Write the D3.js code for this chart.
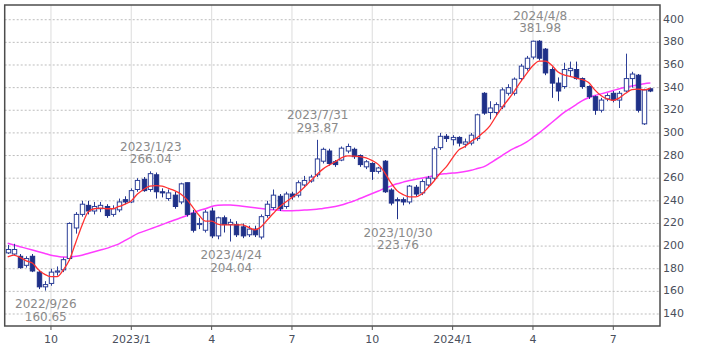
<!DOCTYPE html>
<html>
<head>
<meta charset="utf-8">
<script src="https://cdn.jsdelivr.net/npm/d3@7"></script>
<style>
  body { margin: 0; background: #fff; }
  text { font-family: "DejaVu Sans", Verdana, sans-serif; }
</style>
</head>
<body>
<div id="chart"></div>
<script>
// weekly candles, Monday of each week
const firstWeek = new Date(Date.UTC(2022, 7, 15));
const weeks = d3.utcMonday.range(firstWeek, new Date(Date.UTC(2024, 7, 13)));

const open = [194,193,191,183,191,177,164,167,177,179,189,216,228,236,231,233,235,228,232,241,
  239,250,259,250,263,248,242,245,239,256,229,219,214,231,209,225,219,219,217,210,
  215,208,227,234,244,235,246,245,254,257.5,263,275,284,274.5,276,284,285.5,280,270,273,
  266,275,249.5,241,241,239,252,247,254,260,287,297,294,296,290,291,295,335,318,318,
  323,335,335,348,357,367,381,374,356,344,341,355,356,348,341,332,320,330,335,329,
  337,348,351,308,339];
const high = [201,202,193,191,193,179,169,180,182,190,221,230,240,240,239,239,237,236,242,244,
  251,260,261,266.04,265,251,250,248,256,256,232,225,232,234,226,227,224,222,220,218,
  218,228,240,250,246,248,248,258,262,263,293.87,287,286,276,288,290.5,287,281,276,274,
  270,276,251,243,243,254,254,259,262,288,300,299,298,297,295,300,317,336,328,327,
  340,343,349,361,368,381.5,381.98,375,358,349,362,363,363,349,342,333,331,335,337,337,
  370,354,352,339,340];
const low = [193,192,180,181,177,162,160.65,165,174,177,187,211,226,228,228,230,225,226,230,237,
  238,248,248,248,242,243,240,233,237,226,212,215,212,207,206,212,204.04,208,207,208,
  208,206,225,232,231,233,241,243,252,256,261,273,271,270,275,282,277,270,268,258.5,
  264,247,236,223.76,236,237,244,245,252,258,285,292,289,288,287,289,293,316,312,315,
  321,333,333,346,355,365,364,351,331,328,339,350,347,339,330,316,318,328,327,322,
  336,340,318,307,336];
const close = [197,197,181,189,178,164,166,177,178,188,220,228,237,231,235,236,227,233,239,239,
  249,258,249,264,248,247,247,235,255,228,214,220,230,209,225,219,221,210,209,215,
  210,226,237,245,233,246,243.5,256,258,261,277,285.5,273,272,286.5,288,279,272,274.5,266,
  269,248,238,240,239,253,246,257,260,286,297,295,296,291,292,298,316,317.5,322,325,
  338,340,347.5,359,366,381,366,353,344,337,356,357,348,341,332,320,329,333,329,335,
  348,352,320,338,337];

// 13-week and 26-week moving averages as drawn
const ma13 = [190.5,192,190,187,185,179,175,173,173,179,188,203,218,230,233,233.5,233,233,235,237,
  240,246,250,253,253.5,253,251,249,246,241,234,227,222,222,219.5,218.7,218.7,218.7,218.7,216.5,
  214.3,217,223,229,234.8,239,243,247,252,257.5,263,268,271.5,274.5,278,279.7,279.5,279,278,275.5,
  272,265,256,249,245.5,243.5,243.5,246,251.5,257.5,264.5,270.2,278,285,288,292.5,296,300.5,306,314.5,
  322.5,329.5,337,345,352.5,359.5,363.5,363.5,360,354,351.2,350,348.5,347,344.5,338,333,330,328.8,331,
  335,338.2,338.7,338,339.3];
const ma26 = [202.5,201,199.5,198,196.5,195,193.5,192,191,190.3,190.2,191,192,193.5,195,196.5,198,200,202,205,
  208,211,213,215,217,219,221,223,225,227,229.5,231.5,233,235,236,236.4,236.2,235.8,235.2,234.5,
  233.8,233.2,232.6,232,231.6,231.3,231.3,231.5,231.8,232,232.5,233.3,234,235,236.3,238,239.8,242,244.2,246.5,
  248.7,251,253,255,256.5,258,259,260,261,262.3,263.5,264,264.5,265,265.8,267,268.5,270,273,276.5,
  280,283.5,286.5,289,292,296,300,304.5,309,313.5,318,321.5,325,328.5,331,333,334.5,336,337.5,339,
  340.3,341.5,342.5,343.5,344];

// x axis ticks: first week of each quarter
const tickWeeks = [[2022,9,3],[2023,0,2],[2023,3,3],[2023,6,3],[2023,9,2],[2024,0,1],[2024,3,1],[2024,6,1]]
  .map(d => new Date(Date.UTC(d[0], d[1], d[2])));
const tickLabels = ["10", "2023/1", "4", "7", "10", "2024/1", "4", "7"];
const yTicks = d3.range(140, 401, 20);

// high / low notes
const notes = [
  { date: new Date(Date.UTC(2022, 8, 26)), label: "2022/9/26", value: 160.65, side: "low" },
  { date: new Date(Date.UTC(2023, 0, 23)), label: "2023/1/23", value: 266.04, side: "high" },
  { date: new Date(Date.UTC(2023, 3, 24)), label: "2023/4/24", value: 204.04, side: "low" },
  { date: new Date(Date.UTC(2023, 6, 31)), label: "2023/7/31", value: 293.87, side: "high" },
  { date: new Date(Date.UTC(2023, 9, 30)), label: "2023/10/30", value: 223.76, side: "low" },
  { date: new Date(Date.UTC(2024, 3, 8)), label: "2024/4/8", value: 381.98, side: "high" }
];

const width = 709;
const height = 354;
const plotL = 4.7, plotR = 660, plotT = 5, plotB = 326;
const day = 864e5;

const candles = weeks.map((d, i) => ({ date: d, o: open[i], h: high[i], l: low[i], c: close[i] }));

const x = d3.scaleUtc()
  .domain([new Date(+weeks[0] - 3.4 * day), new Date(+weeks[0] + 738.9 * day)])
  .range([plotL, plotR]);

const y = d3.scaleLinear()
  .domain([129.4, 413])
  .range([plotB, plotT]);

const svg = d3.select('#chart')
  .append('svg')
  .attr('width', width)
  .attr('height', height);

// vertical grid
svg.append('g')
  .selectAll('line')
  .data(tickWeeks)
  .enter().append('line')
  .attr('x1', d => x(d)).attr('x2', d => x(d))
  .attr('y1', plotT).attr('y2', plotB)
  .attr('stroke', '#e2e2e2')
  .attr('stroke-width', 1.2);

// horizontal grid
svg.append('g')
  .selectAll('line')
  .data(yTicks)
  .enter().append('line')
  .attr('x1', plotL).attr('x2', plotR)
  .attr('y1', d => y(d)).attr('y2', d => y(d))
  .attr('stroke', '#bdbdbd')
  .attr('stroke-dasharray', '2,2');

// moving averages
const line = d3.line()
  .x((d, i) => x(weeks[i]))
  .y(d => y(d))
  .curve(d3.curveMonotoneX);

svg.append('path')
  .attr('d', line(ma26))
  .attr('fill', 'none')
  .attr('stroke', '#ff3cff')
  .attr('stroke-width', 1.5);

// candles
const upColor = '#2c3f98';
const downColor = '#1f3088';
const bw = 4.4;

const cg = svg.append('g')
  .selectAll('g')
  .data(candles)
  .enter().append('g');

cg.append('line')
  .attr('x1', d => Math.round(x(d.date)) + 0.5)
  .attr('x2', d => Math.round(x(d.date)) + 0.5)
  .attr('y1', d => y(d.h))
  .attr('y2', d => y(d.l))
  .attr('stroke', d => d.c >= d.o ? upColor : downColor)
  .attr('stroke-width', 1);

cg.append('rect')
  .attr('x', d => Math.round(x(d.date)) + 0.5 - bw / 2)
  .attr('y', d => y(Math.max(d.o, d.c)))
  .attr('width', bw)
  .attr('height', d => Math.max(1, y(Math.min(d.o, d.c)) - y(Math.max(d.o, d.c))))
  .attr('fill', d => d.c >= d.o ? '#fff' : downColor)
  .attr('stroke', d => d.c >= d.o ? upColor : downColor)
  .attr('stroke-width', 1);

svg.append('path')
  .attr('d', line(ma13))
  .attr('fill', 'none')
  .attr('stroke', '#ff3030')
  .attr('stroke-width', 1.3);

// frame
svg.append('rect')
  .attr('x', plotL).attr('y', plotT)
  .attr('width', plotR - plotL).attr('height', plotB - plotT)
  .attr('fill', 'none')
  .attr('stroke', '#4d4d4d')
  .attr('stroke-width', 1.5);

// x ticks and labels
const xg = svg.append('g')
  .selectAll('g')
  .data(tickWeeks)
  .enter().append('g');

xg.append('line')
  .attr('x1', d => x(d)).attr('x2', d => x(d))
  .attr('y1', plotB).attr('y2', plotB + 4)
  .attr('stroke', '#555');

xg.append('text')
  .attr('x', d => x(d))
  .attr('y', 340)
  .attr('text-anchor', 'middle')
  .attr('dominant-baseline', 'middle')
  .attr('font-size', 11)
  .attr('fill', '#4a4f5c')
  .text((d, i) => tickLabels[i]);

// y labels on the right
svg.append('g')
  .selectAll('text')
  .data(yTicks)
  .enter().append('text')
  .attr('x', plotR + 3)
  .attr('y', d => y(d))
  .attr('dominant-baseline', 'middle')
  .attr('font-size', 11)
  .attr('fill', '#4a4f5c')
  .text(d => d);

// notes
const ng = svg.append('g')
  .selectAll('g')
  .data(notes)
  .enter().append('g')
  .attr('fill', '#8a8a8a')
  .attr('font-size', 12)
  .attr('text-anchor', 'middle');

ng.append('text')
  .attr('x', d => x(d.date) + 1)
  .attr('y', d => y(d.value) + (d.side === 'high' ? -24 : 14))
  .attr('dominant-baseline', 'middle')
  .text(d => d.label);

ng.append('text')
  .attr('x', d => x(d.date) + 1)
  .attr('y', d => y(d.value) + (d.side === 'high' ? -11.5 : 26.5))
  .attr('dominant-baseline', 'middle')
  .text(d => d.value.toFixed(2));
</script>
</body>
</html>
